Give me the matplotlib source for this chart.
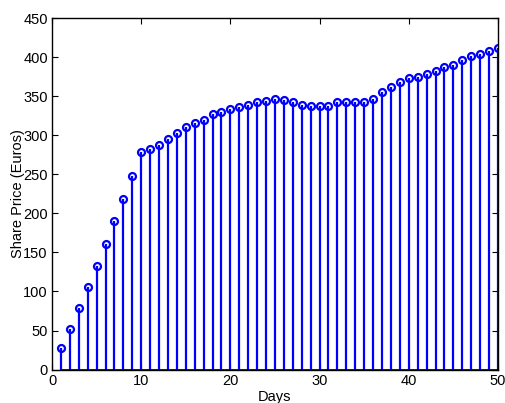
import matplotlib
matplotlib.use("Agg")
import matplotlib.pyplot as plt
import numpy as np

days = list(range(1, 51))
price = [27, 52, 79, 106, 133, 161, 190, 219, 248, 278,
         283, 288, 295, 303, 310, 316, 320, 327, 330, 334,
         336, 339, 342, 344, 346, 345, 342, 339, 338, 338,
         338, 342, 342, 342, 343, 347, 355, 362, 368, 373,
         375, 379, 382, 387, 390, 396, 401, 404, 408, 412]

plt.rcParams['font.family'] = ['Liberation Sans', 'DejaVu Sans']

fig = plt.figure(figsize=(5.05, 4.03), dpi=100)
ax = fig.add_axes([0.103, 0.083, 0.883, 0.872])

ml, sl, bl = ax.stem(days, price, basefmt='k-')
plt.setp(sl, color='#0000ff', linewidth=1.6)
plt.setp(ml, color='#0000ff', marker='o', markerfacecolor='none',
         markeredgecolor='#0000ff', markersize=5, markeredgewidth=1.6)
plt.setp(bl, color='black', linewidth=1.2)

ax.set_xlim(0, 50)
ax.set_ylim(0, 450)
ax.set_xticks(range(0, 51, 10))
ax.set_yticks(range(0, 451, 50))
ax.tick_params(direction='in', top=True, right=True, labelsize=10.5,
               length=4, width=0.8, pad=3)
for s in ax.spines.values():
    s.set_linewidth(1.0)
ax.set_xlabel('Days', fontsize=10.5, labelpad=2)
ax.set_ylabel('Share Price (Euros)', fontsize=10.5, labelpad=-1)

fig.savefig('out.png', dpi=100)
